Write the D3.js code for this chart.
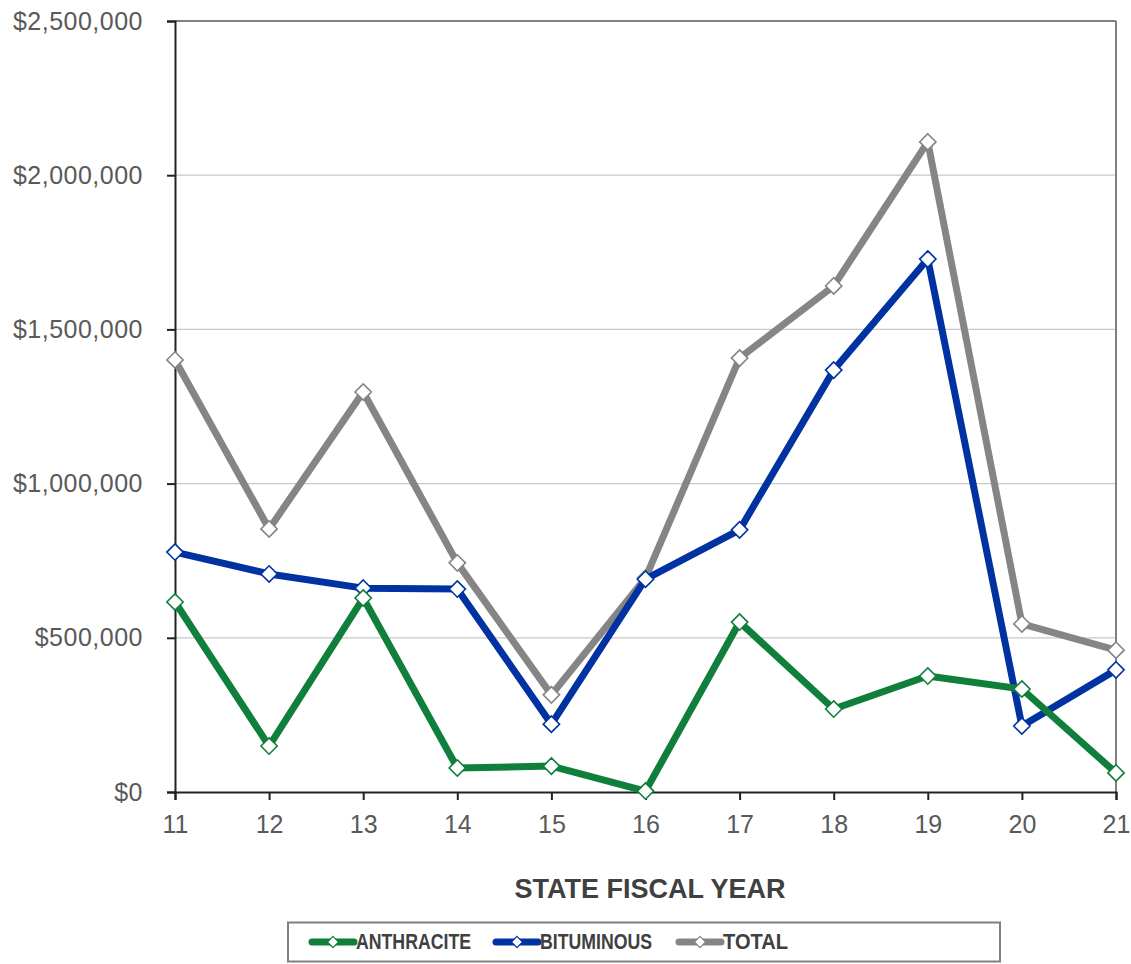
<!DOCTYPE html>
<html>
<head>
<meta charset="utf-8">
<script src="https://cdn.jsdelivr.net/npm/d3@7"></script>
<style>
  body { margin: 0; background: #fff; }
  svg text { font-family: "Liberation Sans", Arial, sans-serif; }
</style>
</head>
<body>
<script>
// Chart data
const years = [11, 12, 13, 14, 15, 16, 17, 18, 19, 20, 21];
const anthracite = [616000, 149000, 629000, 78000, 84000, 3000, 551000, 269000, 376000, 334000, 62000];
const bituminous = [778000, 707000, 661000, 658000, 220000, 690000, 850000, 1368000, 1728000, 214000, 396000];
const total = [1401000, 853000, 1297000, 743000, 315000, 694000, 1407000, 1641000, 2108000, 545000, 460000];
const yTicks = [0, 500000, 1000000, 1500000, 2000000, 2500000];
const seriesNames = ["ANTHRACITE", "BITUMINOUS", "TOTAL"];
const xTitle = "STATE FISCAL YEAR";

const width = 1131, height = 964;
const margin = {left: 175, top: 21, right: 15, bottom: 172};
const innerW = width - margin.left - margin.right;
const innerH = height - margin.top - margin.bottom;

const series = [
    {name: seriesNames[0], values: anthracite, colour: "#0f7f3b"},
    {name: seriesNames[1], values: bituminous, colour: "#0033a1"},
    {name: seriesNames[2], values: total, colour: "#858585"}
];

const svg = d3.select("body")
    .append("svg")
    .attr("width", width)
    .attr("height", height);

const x = d3.scalePoint()
    .domain(years)
    .range([0, innerW]);
const y = d3.scaleLinear()
    .domain([0, 2500000])
    .range([innerH, 0]);

const g = svg.append("g")
    .attr("transform", `translate(${margin.left}, ${margin.top})`);

// Gridlines (top one doubles as the frame)
g.append("g")
    .selectAll("line")
    .data(yTicks.filter(d => d > 0))
    .join("line")
    .attr("x1", 0).attr("x2", innerW)
    .attr("y1", d => y(d)).attr("y2", d => y(d))
    .attr("stroke", d => d === 2500000 ? "#808080" : "#c8c8c8")
    .attr("stroke-width", d => d === 2500000 ? 2 : 1.3);

// Right frame line
g.append("line")
    .attr("x1", innerW).attr("x2", innerW)
    .attr("y1", 0).attr("y2", innerH)
    .attr("stroke", "#808080")
    .attr("stroke-width", 2);

// Y axis
const yAxis = g.append("g")
    .call(d3.axisLeft(y)
        .tickValues(yTicks)
        .tickSize(8)
        .tickPadding(24)
        .tickFormat(d => "$" + d3.format(",")(d)));
yAxis.select(".domain").attr("stroke", "#222").attr("stroke-width", 2);
yAxis.selectAll(".tick line").attr("stroke", "#222").attr("stroke-width", 2);
yAxis.selectAll("text")
    .attr("fill", "#595959")
    .style("font-size", "25px")
    .style("letter-spacing", "0.5px");

// X axis
const xAxis = g.append("g")
    .attr("transform", `translate(0, ${innerH})`)
    .call(d3.axisBottom(x).tickSize(8).tickPadding(15));
xAxis.select(".domain").attr("stroke", "#222").attr("stroke-width", 2);
xAxis.selectAll(".tick line").attr("stroke", "#222").attr("stroke-width", 2);
xAxis.selectAll("text")
    .attr("fill", "#595959")
    .style("font-size", "25px");

// X axis title
svg.append("text")
    .attr("x", 650)
    .attr("y", 898)
    .attr("text-anchor", "middle")
    .attr("fill", "#404040")
    .style("font-size", "27px")
    .style("font-weight", "bold")
    .text(xTitle);

// Lines and markers
const line = d3.line()
    .x((d, i) => x(years[i]))
    .y(d => y(d));

const diamond = d3.symbol().type(d3.symbolDiamond2).size(170);

series.slice().reverse().forEach(s => {
    g.append("path")
        .datum(s.values)
        .attr("fill", "none")
        .attr("stroke", s.colour)
        .attr("stroke-width", 7)
        .attr("stroke-linejoin", "round")
        .attr("d", line);
    g.append("g")
        .selectAll("path")
        .data(s.values)
        .join("path")
        .attr("transform", (d, i) => `translate(${x(years[i])}, ${y(d)})`)
        .attr("d", diamond)
        .attr("fill", "#fff")
        .attr("stroke", s.colour)
        .attr("stroke-width", 1.6);
});

// Legend
const legend = svg.append("g");
legend.append("rect")
    .attr("x", 288).attr("y", 922.5)
    .attr("width", 712).attr("height", 39)
    .attr("fill", "#fff")
    .attr("stroke", "#808080")
    .attr("stroke-width", 2);

const legendX = [312, 496, 679];
const legendTextW = [115, 112, 65];
series.forEach((s, i) => {
    const lx = legendX[i];
    legend.append("line")
        .attr("x1", lx).attr("x2", lx + 42)
        .attr("y1", 942).attr("y2", 942)
        .attr("stroke", s.colour)
        .attr("stroke-width", 7)
        .attr("stroke-linecap", "round");
    legend.append("path")
        .attr("transform", `translate(${lx + 21}, 942)`)
        .attr("d", d3.symbol().type(d3.symbolDiamond2).size(80))
        .attr("fill", "#fff")
        .attr("stroke", s.colour)
        .attr("stroke-width", 1.2);
    legend.append("text")
        .attr("x", lx + 44)
        .attr("y", 949)
        .attr("fill", "#404040")
        .attr("textLength", legendTextW[i])
        .attr("lengthAdjust", "spacingAndGlyphs")
        .style("font-size", "22px")
        .style("font-weight", "bold")
        .text(s.name);
});
</script>
</body>
</html>
